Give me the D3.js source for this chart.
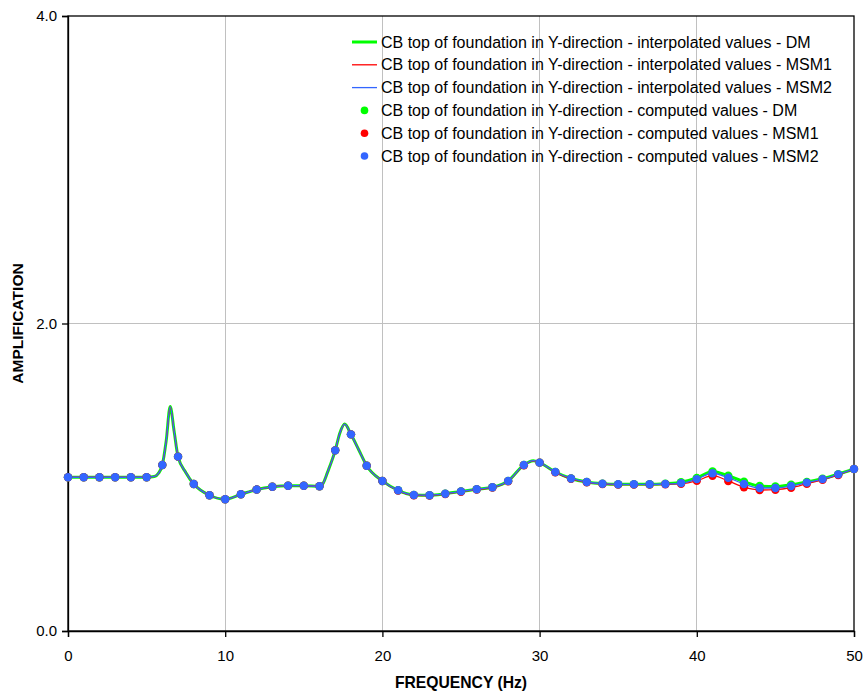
<!DOCTYPE html>
<html><head><meta charset="utf-8">
<script src="https://cdnjs.cloudflare.com/ajax/libs/d3/7.8.5/d3.min.js"></script>
<style>
body{margin:0;background:#fff;}
svg{display:block;font-family:"Liberation Sans",Arial,sans-serif;}
</style></head><body>
<svg id="c" width="864" height="694"></svg>
<script>
// ---- data ----
const freq = d3.range(0, 51);
const dmValues = [1.0,1.0,1.0,1.0,1.0,1.0,1.08,1.134,0.956,0.883,0.857,0.889,0.92,0.938,0.945,0.945,0.941,1.175,1.279,1.075,0.976,0.915,0.885,0.883,0.893,0.908,0.922,0.935,0.976,1.08,1.095,1.034,0.992,0.969,0.958,0.954,0.954,0.954,0.958,0.967,0.995,1.038,1.01,0.971,0.943,0.94,0.952,0.97,0.99,1.02,1.054];
const msm1Values = [1.0,1.0,1.0,1.0,1.0,1.0,1.08,1.134,0.956,0.883,0.857,0.889,0.92,0.938,0.945,0.945,0.941,1.175,1.279,1.075,0.976,0.913,0.883,0.881,0.891,0.906,0.92,0.933,0.974,1.078,1.095,1.032,0.99,0.967,0.956,0.952,0.952,0.952,0.954,0.958,0.977,1.01,0.976,0.935,0.917,0.919,0.932,0.958,0.984,1.015,1.054];
const msm2Values = [1.0,1.0,1.0,1.0,1.0,1.0,1.08,1.134,0.956,0.883,0.857,0.889,0.92,0.938,0.945,0.945,0.941,1.175,1.279,1.075,0.976,0.915,0.885,0.883,0.893,0.908,0.922,0.935,0.976,1.08,1.095,1.034,0.992,0.969,0.958,0.954,0.954,0.954,0.956,0.962,0.988,1.026,0.997,0.956,0.93,0.93,0.943,0.965,0.988,1.019,1.054];
// extra interpolated points (peaks/shoulders)
const extraFreq = [5.5,5.75,6.25,6.5,6.75,7.5,16.25,16.5,17.3,17.6,18.5,29.6];
const extraDM   = [1.005,1.025,1.24,1.46,1.30,1.03,0.965,1.03,1.29,1.346,1.177,1.108];
const extraMSM1 = [1.005,1.025,1.24,1.46,1.30,1.03,0.965,1.03,1.29,1.346,1.177,1.106];
const extraMSM2 = [1.005,1.025,1.24,1.46,1.30,1.03,0.965,1.03,1.29,1.346,1.177,1.108];
const xTicks = [0,10,20,30,40,50];
const yTicks = [0,2,4];
const seriesNames = ["DM","MSM1","MSM2"];
const seriesColors = ["#00ff00","#ff0000","#3366ff"];
const lineWidths = [3,1.3,1.3];
const legendLabels = [
 "CB top of foundation in Y-direction - interpolated values - DM",
 "CB top of foundation in Y-direction - interpolated values - MSM1",
 "CB top of foundation in Y-direction - interpolated values - MSM2",
 "CB top of foundation in Y-direction - computed values - DM",
 "CB top of foundation in Y-direction - computed values - MSM1",
 "CB top of foundation in Y-direction - computed values - MSM2"];

// ---- layout ----
const svg = d3.select("#c");
const m = {l:68, t:16, r:10, b:63};
const W = 864, H = 694;
const x = d3.scaleLinear().domain([0,50]).range([m.l, W-m.r]);
const y = d3.scaleLinear().domain([0,4]).range([H-m.b, m.t]);

// gridlines
svg.append("g").selectAll("line").data(xTicks.slice(1,-1)).join("line")
  .attr("x1",d=>x(d)).attr("x2",d=>x(d)).attr("y1",y(0)).attr("y2",y(4))
  .attr("stroke","#c0c0c0").attr("stroke-width",1).attr("shape-rendering","crispEdges");
svg.append("g").selectAll("line").data(yTicks.slice(1,-1)).join("line")
  .attr("x1",x(0)).attr("x2",x(50)).attr("y1",d=>y(d)).attr("y2",d=>y(d))
  .attr("stroke","#c0c0c0").attr("stroke-width",1).attr("shape-rendering","crispEdges");

// frame
svg.append("rect").attr("x",x(0)).attr("y",y(4)).attr("width",x(50)-x(0)).attr("height",y(0)-y(4))
  .attr("fill","none").attr("stroke","#000").attr("stroke-width",1.3);

// axes
const xa = svg.append("g").attr("transform",`translate(0,${y(0)})`)
  .call(d3.axisBottom(x).tickValues(xTicks).tickFormat(d3.format("d")).tickSize(6).tickPadding(13));
const ya = svg.append("g").attr("transform",`translate(${x(0)},0)`)
  .call(d3.axisLeft(y).tickValues(yTicks).tickFormat(d3.format(".1f")).tickSize(6).tickPadding(5));
[xa,ya].forEach(g=>{
  g.select(".domain").attr("stroke","#000").attr("stroke-width",1.3);
  g.selectAll(".tick line").attr("stroke","#000").attr("stroke-width",1.3);
  g.selectAll(".tick text").attr("fill","#000").style("font-size","15px").style("font-family","'Liberation Sans',Arial,sans-serif");
});

// series
const computed = [dmValues, msm1Values, msm2Values];
const extras = [extraDM, extraMSM1, extraMSM2];
const line = d3.line().x(d=>x(d[0])).y(d=>y(d[1])).curve(d3.curveMonotoneX);
computed.forEach((vals,i)=>{
  const pts = freq.map((f,j)=>[f, vals[j]]).concat(extraFreq.map((f,j)=>[f, extras[i][j]]))
    .sort((a,b)=>a[0]-b[0]);
  svg.append("path").datum(pts).attr("d",line).attr("fill","none")
    .attr("stroke",seriesColors[i]).attr("stroke-width",lineWidths[i]).attr("stroke-linejoin","round");
});
computed.forEach((vals,i)=>{
  svg.append("g").selectAll("circle").data(freq.map((f,j)=>[f, vals[j]])).join("circle")
    .attr("cx",d=>x(d[0])).attr("cy",d=>y(d[1])).attr("r",4.2).attr("fill",seriesColors[i]);
});

// legend
const lg = svg.append("g");
legendLabels.forEach((t,i)=>{
  const cy = 42 + i*22.8;
  if(i<3){
    lg.append("line").attr("x1",352).attr("x2",377).attr("y1",cy).attr("y2",cy)
      .attr("stroke",seriesColors[i]).attr("stroke-width",lineWidths[i]);
  } else {
    lg.append("circle").attr("cx",364.5).attr("cy",cy).attr("r",3.8).attr("fill",seriesColors[i-3]);
  }
  lg.append("text").attr("x",381).attr("y",cy).attr("dy","0.35em")
    .style("font-size","16px").attr("fill","#000").text(t);
});

// axis titles
svg.append("text").attr("x",(x(0)+x(50))/2).attr("y",688).attr("text-anchor","middle")
  .style("font-size","15.7px").style("font-weight","bold").text("FREQUENCY (Hz)");
svg.append("text").attr("transform",`translate(23,${(y(0)+y(4))/2}) rotate(-90)`).attr("text-anchor","middle")
  .style("font-size","15.5px").style("font-weight","bold").text("AMPLIFICATION");
</script></body></html>
